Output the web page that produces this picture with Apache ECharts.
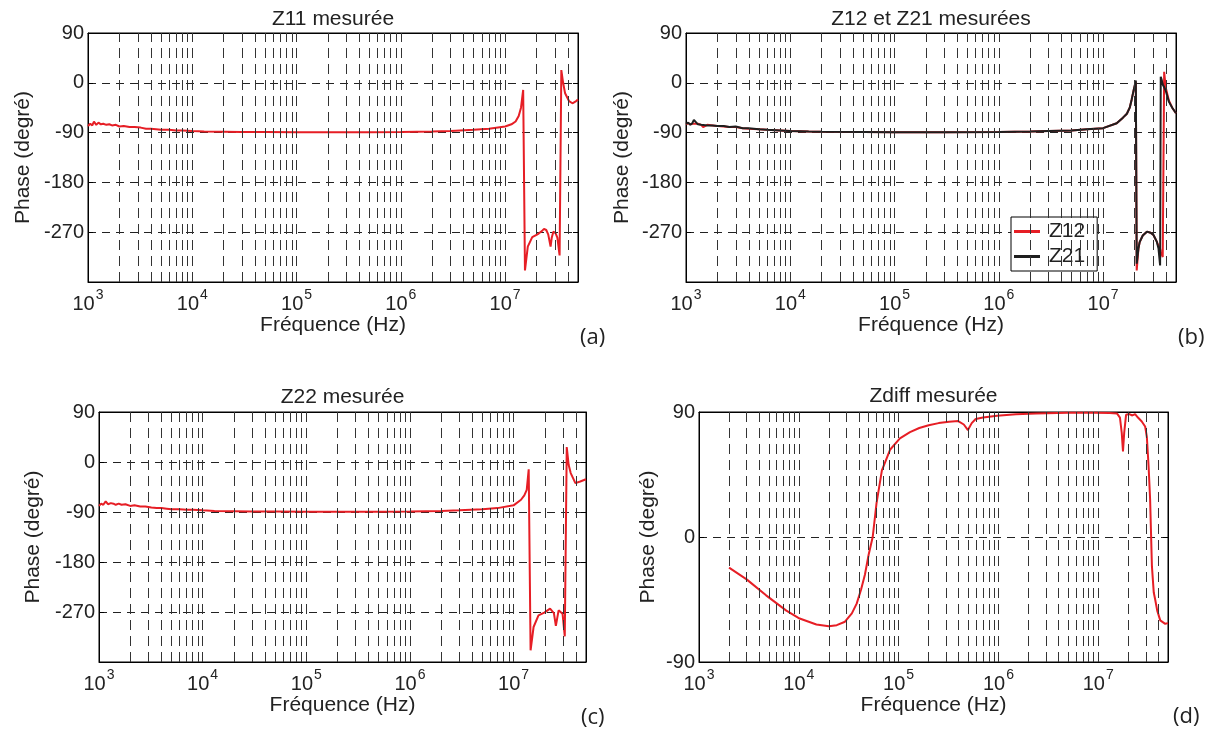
<!DOCTYPE html>
<html><head><meta charset="utf-8">
<script src="https://cdn.jsdelivr.net/npm/echarts@6/dist/echarts.min.js"></script>
<style>html,body{margin:0;padding:0;background:#fff}#c{width:1218px;height:734px}</style>
</head><body><div id="c"></div>
<script>
// ---------------- DATA ----------------
const titles = ['Z11 mesurée', 'Z12 et Z21 mesurées', 'Z22 mesurée', 'Zdiff mesurée'];
const panelTags = ['(a)', '(b)', '(c)', '(d)'];
const xAxisName = 'Fréquence (Hz)';
const yAxisName = 'Phase (degré)';
const xRange = [1e3, 5e7];
const yRangePhase = [-360, 90];
const yRangeDiff = [-90, 90];
const yStep = 90;
const hiddenYLabels = [-360];

// Z11 (a)
const freqZ11 = [1000, 1050, 1100, 1140, 1200, 1260, 1330, 1400, 1500, 1600, 1700, 1850, 2000, 2200, 2500, 2800, 3200, 3600, 4000, 4500, 5000, 6000, 7000, 8000, 10000, 13000, 20000, 30000, 50000, 1e5, 2e5, 5e5, 1e6, 2e6, 3e6, 5e6, 7e6, 1e7, 1.15e7, 1.26e7, 1.35e7, 1.42e7, 1.49e7, 1.55e7, 1.65e7, 1.82e7, 2.0e7, 2.11e7, 2.25e7, 2.36e7, 2.48e7, 2.59e7, 2.73e7, 2.8e7, 2.9e7, 3.05e7, 3.17e7, 3.33e7, 3.46e7, 3.6e7, 3.76e7, 4.1e7, 4.42e7, 4.8e7, 5.0e7];
const phaseZ11 = [-78, -74, -77, -70, -76, -72, -75, -74, -76, -75, -77, -76, -79, -78, -80, -80, -81, -83, -83, -84, -85, -85, -86, -86, -87, -88, -88.5, -89, -89, -89.5, -89.5, -89.5, -89, -88, -87, -85, -83, -79, -75, -70, -60, -45, -13, -339, -296, -279, -275, -272, -268, -264, -266, -274, -296, -280, -269, -272, -280, -312, 23, 0, -19, -33, -37, -33, -30];

// Z12 / Z21 (b)
const freqZ12Z21 = [1000, 1050, 1100, 1150, 1190, 1300, 1400, 1460, 1600, 1800, 2000, 2300, 2600, 3000, 3500, 4000, 5000, 6000, 8000, 10000, 15000, 20000, 50000, 1e5, 3e5, 1e6, 2e6, 3e6, 5e6, 7e6, 1e7, 1.35e7, 1.55e7, 1.69e7, 1.8e7, 1.88e7, 1.97e7, 2.06e7, 2.1e7, 2.18e7, 2.24e7, 2.4e7, 2.63e7, 2.85e7, 3.04e7, 3.27e7, 3.4e7, 3.52e7, 3.57e7, 3.65e7, 3.73e7, 3.85e7, 3.98e7, 4.27e7, 4.6e7, 5e7];
const phaseZ12 = [-75, -73, -75, -74, -72, -74, -76, -80, -76, -77, -78, -79, -80, -80, -82, -83, -84, -85, -86, -87, -88, -88.5, -89, -89.5, -89.5, -89, -88, -87, -86, -84, -82, -73, -63, -56, -45, -30, -12, 2, -339, -300, -288, -276, -269, -271, -275, -287, -295, -300, -305, -310, -315, 20, -8, -32, -45, -55];
const phaseZ21 = [-74, -72, -76, -73, -67, -75, -76, -75, -77, -77, -78, -78, -80, -79, -82, -82, -84, -85, -86, -87, -88, -88.5, -89, -89.5, -89.5, -89, -88, -87, -86, -84, -82, -73, -63, -56, -45, -30, -12, 4, -327, -300, -288, -276, -269, -271, -275, -287, -300, -330, 11, 5, -3, -8, -14, -34, -45, -55];

// Z22 (c)
const freqZ22 = [1000, 1050, 1100, 1160, 1220, 1300, 1380, 1450, 1550, 1650, 1800, 2000, 2200, 2500, 2800, 3200, 3600, 4000, 4500, 5000, 6000, 7000, 8000, 10000, 13000, 20000, 30000, 50000, 1e5, 2e5, 5e5, 1e6, 2e6, 3e6, 5e6, 7e6, 1e7, 1.18e7, 1.27e7, 1.34e7, 1.4e7, 1.46e7, 1.56e7, 1.74e7, 1.98e7, 2.25e7, 2.45e7, 2.56e7, 2.72e7, 2.97e7, 3.12e7, 3.26e7, 3.4e7, 3.56e7, 3.95e7, 4.4e7, 5e7];
const phaseZ22 = [-79, -75, -77, -71, -76, -74, -75, -77, -75, -77, -76, -79, -78, -80, -80, -82, -83, -83, -84, -85, -85, -86, -86, -87, -88, -88.5, -89, -89, -89.5, -89.5, -89.5, -89, -88, -87, -85, -83, -78, -68, -60, -50, -13, -339, -297, -276, -271, -264, -272, -295, -267, -273, -314, 27, -5, -20, -38, -35, -31];

// Zdiff (d)
const freqZdiff = [2000, 3000, 4700, 7500, 10200, 15000, 20000, 24000, 29000, 34000, 38000, 42000, 46000, 50000, 55000, 60000, 68000, 82000, 1.03e5, 1.3e5, 1.61e5, 2.0e5, 2.52e5, 3.2e5, 3.95e5, 4.5e5, 4.95e5, 5.4e5, 5.92e5, 7e5, 9.7e5, 1.5e6, 2.38e6, 5e6, 9.1e6, 1.3e7, 1.54e7, 1.65e7, 1.72e7, 1.77e7, 1.82e7, 1.9e7, 2.05e7, 2.2e7, 2.34e7, 2.5e7, 2.73e7, 2.95e7, 3.07e7, 3.2e7, 3.31e7, 3.45e7, 3.6e7, 3.72e7, 3.9e7, 4.18e7, 4.69e7, 5e7];
const phaseZdiff = [-22, -30.5, -42, -53, -58.7, -63, -64.3, -63.5, -61, -55, -48, -38, -27, -13, 0, 24, 48, 62.8, 71, 75.5, 78.5, 80.5, 82, 83, 83.5, 81, 77, 82, 85, 86, 87.3, 88.3, 89, 89.4, 89.5, 89.3, 89, 86, 75, 61.6, 75, 88, 88.5, 87.5, 88.5, 86, 83.2, 79.6, 72, 50, 27, -21, -40, -45, -53, -60, -62.5, -62];

// log-grid multipliers and decades
const gridMultipliers = [1, 2, 3, 4, 5, 6, 7, 8, 9];
const gridDecades = [3, 4, 5, 6, 7];

// ---------------- LAYOUT / STYLE ----------------
const FONT = '"Liberation Sans", Arial, Helvetica, sans-serif';
const RED = '#e61e25', BLACK = '#1e1e1e';
const grids = [
  {left: 88, top: 33, width: 490, height: 249},
  {left: 686, top: 33, width: 490, height: 249},
  {left: 99, top: 412, width: 487, height: 250},
  {left: 699, top: 412, width: 469, height: 250}
];
const yNameGaps = [54, 53, 55, 40];

const gridFreqs = [];
gridDecades.forEach(d => gridMultipliers.forEach(m => {
  const f = m * Math.pow(10, d);
  if (f > xRange[0] && f < xRange[1]) gridFreqs.push(f);
}));

function pairs(xs, ys) { return xs.map((x, i) => [x, ys[i]]); }
function expLabel(v) {
  const l = Math.log10(v), e = Math.round(l);
  if (Math.abs(l - e) > 1e-6) return '';
  return '{b|10}{s|' + e + '}';
}

const xAxes = [], yAxes = [];
grids.forEach((g, i) => {
  const isDiff = i === 3;
  const yr = isDiff ? yRangeDiff : yRangePhase;
  xAxes.push({
    type: 'log', logBase: 10, gridIndex: i, min: xRange[0], max: xRange[1], position: 'bottom',
    axisLine: {show: true, onZero: false, lineStyle: {color: '#000', width: 1}},
    axisTick: {show: true, inside: true, length: 5, lineStyle: {color: '#000'}},
    splitLine: {show: false},
    axisLabel: {
      margin: 6, formatter: expLabel, color: '#222',
      rich: {
        b: {fontFamily: FONT, fontSize: 20, color: '#222', verticalAlign: 'bottom', lineHeight: 26},
        s: {fontFamily: FONT, fontSize: 14, color: '#222', verticalAlign: 'top', lineHeight: 14, padding: [0, 0, 0, 1]}
      }
    },
    name: xAxisName, nameLocation: 'middle', nameGap: 28,
    nameTextStyle: {fontFamily: FONT, fontSize: 21, color: '#222'}
  });
  xAxes.push({
    type: 'log', logBase: 10, gridIndex: i, min: xRange[0], max: xRange[1], position: 'top',
    axisLine: {show: true, onZero: false, lineStyle: {color: '#000'}},
    axisTick: {show: true, inside: true, length: 5, lineStyle: {color: '#000'}},
    axisLabel: {show: false}, splitLine: {show: false}
  });
  yAxes.push({
    type: 'value', gridIndex: i, min: yr[0], max: yr[1], interval: yStep, position: 'left',
    axisLine: {show: true, onZero: false, lineStyle: {color: '#000'}},
    axisTick: {show: true, inside: true, length: 5, lineStyle: {color: '#000'}},
    axisLabel: {
      margin: 4, fontFamily: FONT, fontSize: 20, color: '#222',
      formatter: v => hiddenYLabels.includes(v) ? '' : String(v)
    },
    splitLine: {show: true, lineStyle: {type: [8, 6], color: '#222', width: 1}},
    name: yAxisName, nameLocation: 'middle', nameGap: yNameGaps[i],
    nameTextStyle: {fontFamily: FONT, fontSize: 21, color: '#222'}
  });
  yAxes.push({
    type: 'value', gridIndex: i, min: yr[0], max: yr[1], interval: yStep, position: 'right',
    axisLine: {show: true, onZero: false, lineStyle: {color: '#000'}},
    axisTick: {show: true, inside: true, length: 5, lineStyle: {color: '#000'}},
    axisLabel: {show: false}, splitLine: {show: false}
  });
});

const series = [];
grids.forEach((g, i) => {
  series.push({
    type: 'line', xAxisIndex: 2 * i, yAxisIndex: 2 * i, data: [], silent: true, z: 1,
    markLine: {
      silent: true, symbol: ['none', 'none'], animation: false,
      label: {show: false},
      lineStyle: {type: [10, 6], color: '#333', width: 1},
      emphasis: {disabled: true},
      data: gridFreqs.map(f => ({xAxis: f}))
    }
  });
});
function curve(name, idx, xs, ys, color, z) {
  return {
    name, type: 'line', xAxisIndex: 2 * idx, yAxisIndex: 2 * idx,
    data: pairs(xs, ys), symbol: 'none', showSymbol: false, z: z || 3,
    lineStyle: {color, width: 2}, itemStyle: {color}, clip: true
  };
}
series.push(curve('Z11', 0, freqZ11, phaseZ11, RED));
series.push(curve('Z12', 1, freqZ12Z21, phaseZ12, RED, 3));
series.push(curve('Z21', 1, freqZ12Z21, phaseZ21, BLACK, 4));
series.push(curve('Z22', 2, freqZ22, phaseZ22, RED));
series.push(curve('Zdiff', 3, freqZdiff, phaseZdiff, RED));

const titleY = [19, 19, 397, 396];
const tagPos = [[580, 338], [1178, 338], [581, 718], [1173, 717]];
const graphics = [];
grids.forEach((g, i) => {
  graphics.push({
    type: 'text', x: g.left + g.width / 2, y: titleY[i], silent: true,
    style: {text: titles[i], fontFamily: FONT, fontSize: 21, fill: '#222', textAlign: 'center', textVerticalAlign: 'middle'}
  });
  graphics.push({
    type: 'text', x: tagPos[i][0], y: tagPos[i][1], silent: true,
    style: {text: panelTags[i], fontFamily: '"Open Sans", sans-serif', fontSize: 22, fill: '#222', textAlign: 'left', textVerticalAlign: 'middle'}
  });
});

const chart = echarts.init(document.getElementById('c'), null, {renderer: 'canvas'});
chart.setOption({
  animation: false,
  backgroundColor: '#fff',
  grid: grids.map(g => Object.assign({containLabel: false, show: true, borderColor: '#000', borderWidth: 1, backgroundColor: 'transparent'}, g)),
  xAxis: xAxes,
  yAxis: yAxes,
  legend: {
    data: ['Z12', 'Z21'], orient: 'vertical', left: 1011, top: 217,
    icon: 'rect',
    backgroundColor: '#fff', borderColor: '#000', borderWidth: 1, borderRadius: 0,
    padding: [4, 12, 4, 3], itemGap: 4, itemWidth: 26, itemHeight: 3,
    textStyle: {fontFamily: FONT, fontSize: 21, color: '#222', padding: [0, 0, 0, 4]}
  },
  graphic: graphics,
  series
});
</script></body></html>
